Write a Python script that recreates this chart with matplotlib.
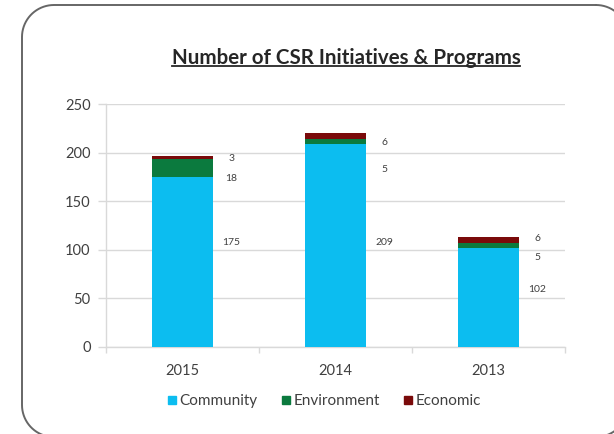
import numpy as np
import matplotlib.pyplot as plt
from matplotlib.lines import Line2D

plt.rcParams['font.family'] = ['Lato', 'DejaVu Sans']
plt.rcParams['savefig.bbox'] = 'standard'

years = ['2015', '2014', '2013']
community = [175, 209, 102]
environment = [18, 5, 5]
economic = [3, 6, 6]

# where the value labels sit (data units), one row per year:
# community, environment, economic
label_y = [[108, 173, 194],
           [108, 183, 210],
           [59, 92, 112]]

c_comm = '#0cbdf0'
c_env = '#0b7a3e'
c_eco = '#7a0a0a'
grid_c = '#d9d9d9'
txt_c = '#404040'

W, H = 614, 434
fig = plt.figure(figsize=(W/100, H/100), dpi=100)
fig.patch.set_facecolor('white')


def rounded_rect(x0, y0, x1, y1, r, n=20):
    # outline of a rounded rectangle, y measured downward
    pts = []
    corners = [(x1 - r, y0 + r, -90, 0), (x1 - r, y1 - r, 0, 90),
               (x0 + r, y1 - r, 90, 180), (x0 + r, y0 + r, 180, 270)]
    for cx, cy, a0, a1 in corners:
        t = np.radians(np.linspace(a0, a1, n))
        pts += list(zip(cx + r*np.cos(t), cy + r*np.sin(t)))
    pts.append(pts[0])
    return np.array(pts)


# slide frame drawn in pixel units, y down from the top; clipped at the
# figure edge so it runs off the right and bottom
bg = fig.add_axes([0, 0, 1, 1], zorder=-1)
fr = rounded_rect(22, 5, 628, 437, 32)
bg.plot(fr[:, 0], fr[:, 1], color='#666666', lw=1.4, clip_on=True)
bg.set_xlim(0, W)
bg.set_ylim(H, 0)
bg.axis('off')

ax = fig.add_axes([106/W, 1 - 347/H, (565 - 106)/W, (347 - 104)/H])
x = np.arange(len(years))
w = 0.4
bot2 = np.array(community) + np.array(environment)
ax.bar(x, community, w, color=c_comm, zorder=3)
ax.bar(x, environment, w, bottom=community, color=c_env, zorder=3)
ax.bar(x, economic, w, bottom=bot2, color=c_eco, zorder=3)

for i in range(len(years)):
    vals = [community[i], environment[i], economic[i]]
    for v, yy in zip(vals, label_y[i]):
        ax.text(x[i] + 0.32, yy, str(v), ha='center', va='center',
                fontsize=7.5, color=txt_c)

ax.set_xlim(-0.5, 2.5)
ax.set_ylim(0, 250)
ax.set_yticks(range(0, 251, 50))
ax.yaxis.grid(True, color=grid_c, linewidth=1, zorder=0)
ax.set_xticks(x)
ax.set_xticklabels(years)
ax.set_xticks([-0.5, 0.5, 1.5, 2.5], minor=True)
ax.tick_params(axis='x', which='major', length=0, pad=12, labelsize=10.5,
               labelcolor=txt_c)
ax.tick_params(axis='x', which='minor', length=4, color=grid_c, width=1)
ax.tick_params(axis='y', length=6, color=grid_c, width=1, labelsize=10.5,
               labelcolor=txt_c, pad=5)
for s in ['top', 'right']:
    ax.spines[s].set_visible(False)
for s in ['left', 'bottom']:
    ax.spines[s].set_color(grid_c)
    ax.spines[s].set_linewidth(1)

handles = [Line2D([], [], marker='s', linestyle='', markersize=6, color=c)
           for c in (c_comm, c_env, c_eco)]
fig.legend(handles, ['Community', 'Environment', 'Economic'], ncol=3,
           loc='center', bbox_to_anchor=(323/W, 1 - 401/H), frameon=False,
           fontsize=11, handletextpad=0.05, columnspacing=1.4,
           labelcolor=txt_c, handlelength=0.9)

title = fig.text(346/W, 1 - 58/H, 'Number of CSR Initiatives & Programs',
                 ha='center', va='center', fontsize=14.8, fontweight='bold',
                 color='#262626')
fig.canvas.draw()
bb = title.get_window_extent().transformed(fig.transFigure.inverted())
fig.add_artist(Line2D([bb.x0, bb.x1], [bb.y0 + 0.004, bb.y0 + 0.004],
                      transform=fig.transFigure, color='#262626', linewidth=1.3))

fig.savefig('out.png', dpi=100)
